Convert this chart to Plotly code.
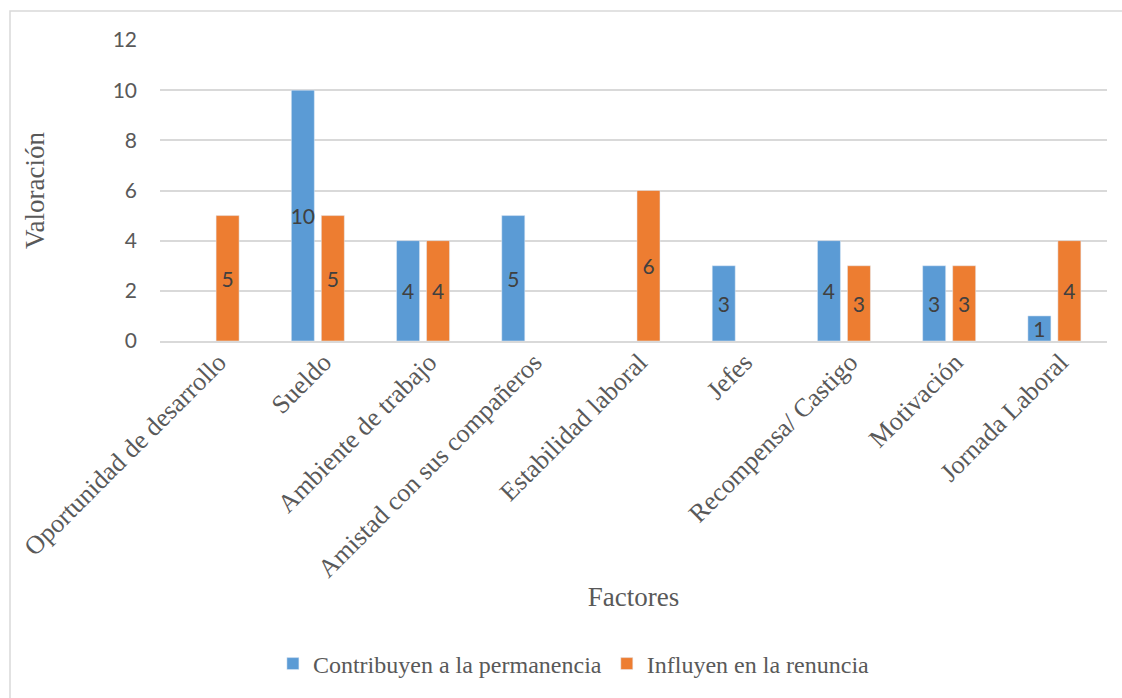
import plotly.graph_objects as go

categories = ["Oportunidad de desarrollo", "Sueldo", "Ambiente de trabajo",
              "Amistad con sus compañeros", "Estabilidad laboral", "Jefes",
              "Recompensa/ Castigo", "Motivación", "Jornada Laboral"]
permanencia = [None, 10, 4, 5, None, 3, 4, 3, 1]
renuncia = [5, 5, 4, None, 6, None, 3, 3, 4]
y_ticks = [0, 2, 4, 6, 8, 10, 12]

SERIF = "'Liberation Serif', 'Times New Roman', serif"
SANS = "Lato, 'Open Sans', sans-serif"
label_font = dict(family=SANS, size=21, color="#404040")

fig = go.Figure()
fig.add_trace(go.Bar(
    name="Contribuyen a la permanencia", x=categories, y=permanencia,
    marker_color="#5b9bd5", text=permanencia, texttemplate="%{y}",
    textposition="inside", insidetextanchor="middle", constraintext="none",
    textfont=label_font, textangle=0,
))
fig.add_trace(go.Bar(
    name="Influyen en la renuncia", x=categories, y=renuncia,
    marker_color="#ed7d31", text=renuncia, texttemplate="%{y}",
    textposition="inside", insidetextanchor="middle", constraintext="none",
    textfont=label_font, textangle=0,
))

L, R, T, B = 160, 15, 40, 357
W, H = 1122, 698
pw = W - L - R
ph = H - T - B

def px_x(p):
    return (p - L) / pw

def px_y(p):
    return (H - B - p) / ph

fig.update_layout(
    width=W, height=H,
    margin=dict(l=L, r=R, t=T, b=B),
    paper_bgcolor="white", plot_bgcolor="white",
    barmode="group", bargap=0.43, bargroupgap=0.233,
    showlegend=True,
    legend=dict(orientation="h", xref="container", x=0.5115, xanchor="center",
                yref="container", y=(H - 664) / H, yanchor="middle",
                font=dict(family=SERIF, size=24, color="#595959"),
                itemwidth=30, tracegroupgap=0),
    uniformtext=dict(mode=False),
    shapes=[dict(type="rect", xref="paper", yref="paper",
                 x0=px_x(10), x1=px_x(1140), y0=px_y(720), y1=px_y(11),
                 line=dict(color="#d9d9d9", width=1.5), fillcolor="rgba(0,0,0,0)",
                 layer="below")],
)
fig.update_xaxes(
    tickangle=-45, showgrid=False, showline=True, linecolor="#d9d9d9", linewidth=1.5,
    ticks="", ticklabelstandoff=-6, ticklabelshift=6,
    tickfont=dict(family=SERIF, size=26, color="#595959"),
    title=dict(text="Factores", standoff=5,
               font=dict(family=SERIF, size=27, color="#595959")),
)
fig.update_yaxes(
    range=[0, 12], tickvals=y_ticks, showgrid=True, gridcolor="#d9d9d9", gridwidth=1.5,
    zeroline=False, showline=False, ticks="", ticklabelstandoff=22,
    tickfont=dict(family=SANS, size=21, color="#595959"),
    title=dict(text="Valoración", standoff=60,
               font=dict(family=SERIF, size=27, color="#595959")),
)

fig.write_html("out.html")
